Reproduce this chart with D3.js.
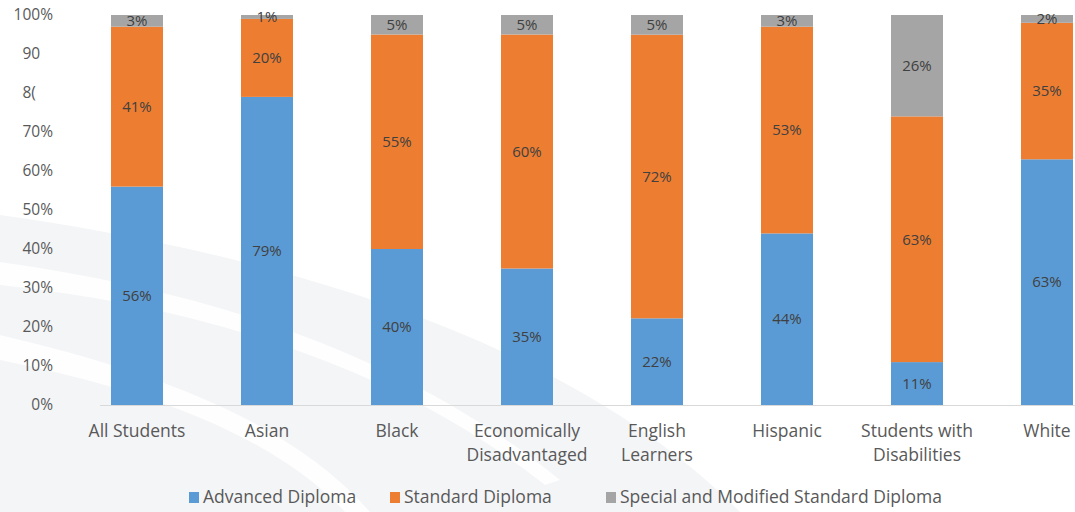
<!DOCTYPE html>
<html>
<head>
<meta charset="utf-8">
<script src="https://cdn.jsdelivr.net/npm/d3@7"></script>
<style>
  body { margin: 0; background: #fff; }
  #chart { width: 1075px; height: 512px; overflow: hidden; }
</style>
</head>
<body>
<div id="chart"></div>
<script>
// Chart data
const categories = ["All Students", "Asian", "Black", "Economically Disadvantaged",
  "English Learners", "Hispanic", "Students with Disabilities", "White"];
const categoryLines = [["All Students"], ["Asian"], ["Black"], ["Economically", "Disadvantaged"],
  ["English", "Learners"], ["Hispanic"], ["Students with", "Disabilities"], ["White"]];
const seriesNames = ["Advanced Diploma", "Standard Diploma", "Special and Modified Standard Diploma"];
const advanced = [56, 79, 40, 35, 22, 44, 11, 63];
const standard = [41, 20, 55, 60, 72, 53, 63, 35];
const special = [3, 1, 5, 5, 5, 3, 26, 2];
const tickValues = [0, 0.1, 0.2, 0.3, 0.4, 0.5, 0.6, 0.7, 0.8, 0.9, 1];
const tickLabels = ["0%", "10%", "20%", "30%", "40%", "50%", "60%", "70%", "8(", "90", "100%"];
const colors = ["#5B9BD5", "#ED7D31", "#A5A5A5"];

window.onload = function () {
  const width = 1075;
  const height = 512;
  const font = "'Open Sans', 'Noto Sans', sans-serif";

  const svg = d3.select("#chart")
    .append("svg")
    .attr("width", width)
    .attr("height", height)
    .style("font-family", font);

  // faint background swooshes
  const bg = svg.append("g");
  bg.append("path")
    .attr("d", "M0,215 C250,250 560,330 740,512 L0,512 Z")
    .attr("fill", "#f4f5f7");
  bg.append("path")
    .attr("d", "M0,262 C200,290 400,350 560,480 L545,485 C390,362 190,305 0,285 Z")
    .attr("fill", "#ffffff").attr("opacity", 0.85);
  bg.append("path")
    .attr("d", "M0,335 C150,370 290,420 370,512 L345,512 C270,432 140,388 0,360 Z")
    .attr("fill", "#ffffff").attr("opacity", 0.85);

  const x = d3.scaleBand()
    .domain(categories)
    .range([72, 1112])
    .paddingInner(0.6)
    .paddingOuter(0.3);

  const y = d3.scaleLinear().domain([0, 1]).range([405, 15]);

  // 100% stacked data
  const rows = categories.map((c, i) => ({
    cat: c,
    [seriesNames[0]]: advanced[i],
    [seriesNames[1]]: standard[i],
    [seriesNames[2]]: special[i]
  }));
  const stacked = d3.stack().keys(seriesNames).offset(d3.stackOffsetExpand)(rows);

  // y axis labels
  const yAxis = svg.append("g")
    .attr("transform", "translate(53,0)")
    .call(d3.axisLeft(y).tickValues(tickValues)
      .tickFormat((d, i) => tickLabels[i]).tickSize(0).tickPadding(0));
  yAxis.select(".domain").remove();
  yAxis.selectAll("text")
    .style("font-family", font)
    .style("font-size", "15.5px")
    .attr("fill", "#595959");
  // truncated labels start where the other two-digit labels start
  const refW = yAxis.selectAll("text").filter((d, i) => i === 7).node().getComputedTextLength();
  yAxis.selectAll("text")
    .filter((d, i) => !tickLabels[i].endsWith("%"))
    .attr("text-anchor", "start")
    .attr("x", -refW);

  // baseline
  svg.append("line")
    .attr("x1", 100).attr("x2", width)
    .attr("y1", y(0) + 0.5).attr("y2", y(0) + 0.5)
    .attr("stroke", "#d9d9d9");

  // bars
  const layers = svg.append("g").selectAll("g")
    .data(stacked)
    .join("g")
    .attr("fill", (d, i) => colors[i]);

  layers.selectAll("rect")
    .data((d) => d)
    .join("rect")
    .attr("x", (d) => x(d.data.cat))
    .attr("width", x.bandwidth())
    .attr("y", (d) => y(d[1]))
    .attr("height", (d) => y(d[0]) - y(d[1]));

  // value labels (raw percentages)
  layers.selectAll("text")
    .data((d) => d.map((s) => ({ s, v: s.data[d.key] })))
    .join("text")
    .attr("x", (d) => x(d.s.data.cat) + x.bandwidth() / 2)
    .attr("y", (d) => (y(d.s[0]) + y(d.s[1])) / 2)
    .attr("dy", "0.35em")
    .attr("text-anchor", "middle")
    .attr("fill", "#404040")
    .style("font-size", "15px")
    .text((d) => d.v + "%");

  // category labels
  const xl = svg.append("g").selectAll("text")
    .data(categories)
    .join("text")
    .attr("x", (d) => x(d) + x.bandwidth() / 2)
    .attr("y", 437)
    .attr("text-anchor", "middle")
    .attr("fill", "#595959")
    .style("font-size", "17.5px");
  xl.selectAll("tspan")
    .data((d, i) => categoryLines[i])
    .join("tspan")
    .attr("x", function () { return this.parentNode.getAttribute("x"); })
    .attr("dy", (d, i) => (i === 0 ? 0 : 24))
    .text((d) => d);

  // legend
  const legendX = [189, 390, 606];
  const legend = svg.append("g").selectAll("g")
    .data(seriesNames)
    .join("g")
    .attr("transform", (d, i) => `translate(${legendX[i]},492)`);
  legend.append("rect")
    .attr("width", 10).attr("height", 11)
    .attr("fill", (d, i) => colors[i]);
  legend.append("text")
    .attr("x", 14)
    .attr("y", 11)
    .attr("fill", "#595959")
    .style("font-size", "17.5px")
    .text((d) => d);
};
</script>
</body>
</html>
